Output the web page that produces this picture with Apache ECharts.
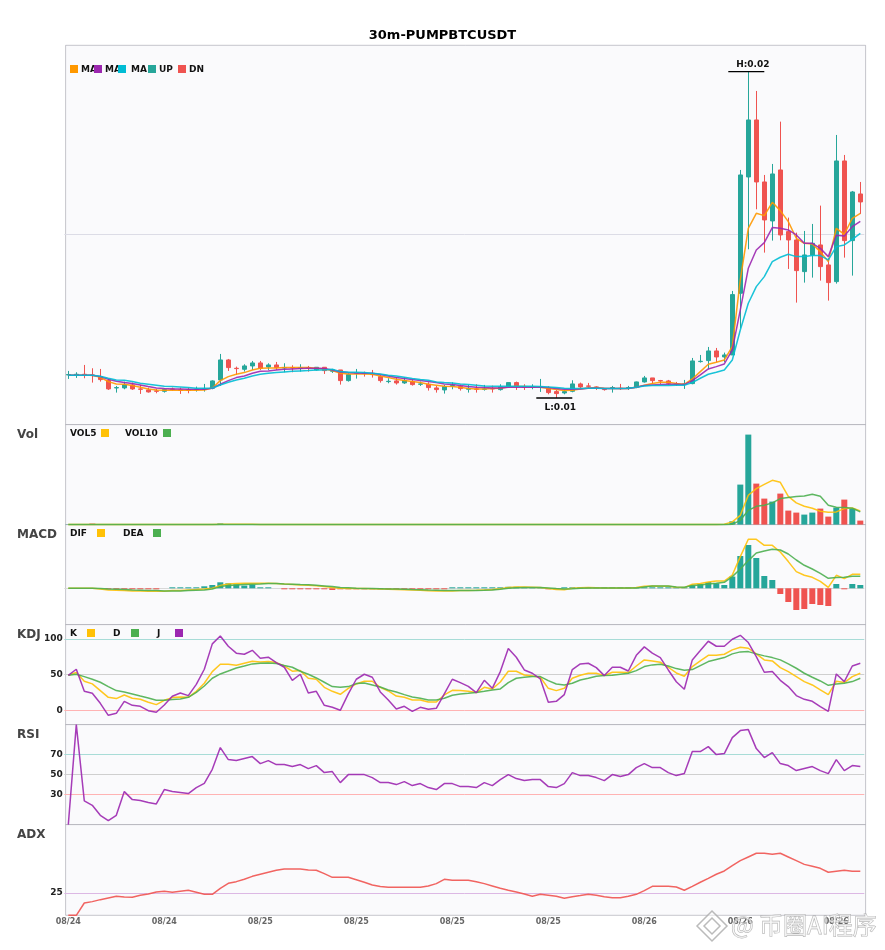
<!DOCTYPE html>
<html><head><meta charset="utf-8">
<style>html,body{margin:0;padding:0;background:#fff}#c{width:885px;height:950px}</style>
<script src="https://cdn.jsdelivr.net/npm/echarts@6/dist/echarts.min.js"></script>
</head><body><div id="c"></div>
<script>
const chartTitle='30m-PUMPBTCUSDT';
const dayRuns=[['08/24',24],['08/25',48],['08/26',28]];
// prices in units of 0.00001
const open=[1066,1066,1068,1066,1061,1049,1027,1027,1036,1024,
1021,1018,1017,1024,1021,1021,1022,1023,1026,1051,
1111,1086,1083,1093,1102,1090,1096,1087,1088,1086,
1088,1081,1089,1077,1081,1049,1071,1071,1068,1061,
1046,1048,1042,1046,1038,1038,1027,1021,1033,1031,
1023,1024,1023,1025,1022,1031,1043,1030,1029,1029,
1025,1016,1012,1017,1039,1033,1030,1023,1027,1026,
1027,1029,1045,1057,1049,1048,1039,1038,1040,1106,
1109,1138,1120,1126,1311,1660,1831,1645,1528,1681,
1496,1471,1376,1426,1456,1396,1346,1708,1469,1609];
const close=[1067,1068,1065,1064,1052,1024,1028,1036,1024,1023,
1015,1017,1022,1023,1020,1020,1023,1024,1048,1111,
1088,1085,1093,1102,1086,1096,1088,1088,1087,1087,
1087,1089,1079,1081,1049,1067,1072,1070,1067,1049,
1047,1042,1049,1037,1039,1028,1022,1031,1034,1025,
1026,1023,1024,1024,1030,1043,1033,1029,1030,1030,
1013,1010,1016,1039,1030,1032,1027,1022,1028,1025,
1028,1045,1057,1049,1048,1041,1038,1039,1108,1107,
1138,1120,1126,1307,1666,1831,1645,1531,1669,1486,
1471,1379,1426,1461,1391,1343,1708,1469,1615,1585];
const high=[1078,1074,1096,1086,1084,1054,1033,1046,1043,1036,
1028,1024,1025,1028,1028,1028,1031,1039,1050,1129,
1114,1091,1098,1108,1108,1101,1105,1101,1095,1098,
1093,1089,1089,1084,1081,1071,1084,1076,1081,1066,
1056,1059,1059,1053,1046,1044,1033,1036,1044,1037,
1036,1038,1036,1034,1038,1043,1046,1038,1038,1054,
1032,1021,1021,1050,1043,1042,1032,1026,1033,1039,
1033,1046,1063,1057,1051,1051,1045,1051,1117,1126,
1150,1147,1133,1318,1681,1976,1918,1666,1699,1826,
1538,1493,1498,1519,1574,1416,1786,1726,1618,1645];
const low=[1054,1057,1056,1043,1046,1021,1013,1023,1021,1009,
1013,1011,1013,1019,1009,1011,1016,1016,1023,1033,
1078,1066,1076,1081,1081,1081,1081,1074,1074,1076,
1076,1079,1069,1072,1037,1046,1055,1061,1058,1043,
1041,1037,1039,1034,1033,1019,1013,1010,1023,1019,
1013,1013,1019,1013,1019,1029,1021,1021,1023,1015,
1008,997,1008,1014,1023,1026,1021,1019,1013,1021,
1021,1026,1043,1039,1039,1036,1033,1024,1038,1103,
1083,1105,1105,1126,1206,1443,1563,1433,1469,1470,
1384,1283,1343,1358,1349,1289,1340,1418,1364,1549];
const ma5=[1065,1065,1065,1065,1059,1046,1039,1038,1034,1029,
1024,1021,1020,1021,1020,1020,1020,1021,1027,1049,
1061,1068,1073,1081,1086,1087,1087,1088,1088,1088,
1088,1086,1084,1079,1071,1069,1069,1069,1068,1063,
1058,1053,1049,1046,1043,1038,1035,1032,1031,1029,
1025,1024,1024,1025,1026,1030,1031,1031,1030,1029,
1025,1022,1019,1020,1024,1027,1028,1026,1025,1025,
1025,1029,1035,1040,1044,1044,1040,1038,1054,1076,
1098,1104,1111,1151,1351,1506,1551,1544,1584,1559,
1526,1476,1461,1459,1436,1406,1506,1488,1536,1551];
const ma10=[1065,1065,1065,1065,1061,1053,1047,1043,1040,1036,
1031,1027,1025,1024,1024,1023,1023,1023,1026,1038,
1049,1058,1063,1071,1077,1078,1081,1083,1084,1085,
1086,1086,1085,1081,1075,1073,1072,1071,1071,1067,
1063,1058,1055,1052,1049,1046,1043,1039,1037,1034,
1031,1029,1028,1027,1027,1029,1029,1029,1029,1029,
1028,1025,1023,1023,1024,1026,1027,1025,1025,1025,
1025,1029,1034,1036,1037,1038,1038,1037,1049,1066,
1084,1091,1099,1141,1261,1386,1441,1463,1508,1506,
1501,1486,1461,1461,1446,1421,1485,1483,1511,1527];
const ma20=[1065,1065,1065,1065,1062,1056,1051,1050,1046,1041,
1038,1035,1032,1031,1030,1028,1026,1026,1027,1036,
1044,1051,1056,1063,1068,1071,1073,1075,1077,1078,
1079,1081,1081,1083,1076,1074,1074,1073,1071,1069,
1065,1063,1059,1055,1052,1050,1045,1043,1042,1039,
1037,1035,1033,1032,1032,1032,1032,1032,1032,1031,
1030,1028,1026,1025,1025,1026,1026,1025,1025,1025,
1026,1029,1033,1034,1034,1034,1035,1035,1043,1056,
1068,1074,1081,1111,1201,1281,1331,1361,1406,1419,
1428,1421,1421,1424,1424,1411,1451,1456,1473,1491];
const vol=[.2,.2,.2,1,.2,.2,.2,.2,.2,.2,
.2,.2,.2,.2,.2,.2,.2,.2,.2,1.2,
.2,.2,.2,.2,.2,.2,.2,.2,.2,.2,
.2,.2,.2,.2,.2,.2,.2,.2,.2,.2,
.2,.2,.2,.2,.2,.2,.2,.2,.2,.2,
.2,.2,.2,.2,.2,.2,.2,.2,.2,.2,
.2,.2,.2,.2,.2,.2,.2,.2,.2,.2,
.2,.2,.2,.2,.2,.2,.2,.2,.3,.3,
.3,.3,.3,3.3,40,90,41,26,23,31,
14,12,10,12,16,8,17,25,16,4];
const vol5=[0,0,0,.2,.2,.2,.2,.2,0,0,
0,0,0,0,0,0,0,0,0,.3,
.3,.3,.3,.3,0,0,0,0,0,0,
0,0,0,0,0,0,0,0,0,0,
0,0,0,0,0,0,0,0,0,0,
0,0,0,0,0,0,0,0,0,0,
0,0,0,0,0,0,0,0,0,0,
0,0,0,0,0,0,0,0,0,0,
0,0,.3,2.7,9.3,29.3,36,40.3,44.3,42.3,
28.3,21.7,18.3,16.3,13.3,12.3,12.7,16,16.7,13.7];
const vol10=[0,0,0,.1,.1,.1,.1,.1,.1,.1,
.1,.1,.1,0,0,0,0,0,0,.1,
.1,.1,.1,.1,.1,.1,.1,.1,.1,0,
0,0,0,0,0,0,0,0,0,0,
0,0,0,0,0,0,0,0,0,0,
0,0,0,0,0,0,0,0,0,0,
0,0,0,0,0,0,0,0,0,0,
0,0,0,0,0,0,0,0,0,0,
0,0,0,.3,4.3,14.3,18.3,19.3,21.7,26,
27,28,28.7,30.3,28.3,19.3,17.3,17,16.3,12.7];
const dif=[0,0,0,0,-.7,-1.7,-2,-2.3,-2.7,-2.7,
-3,-3,-3,-2.3,-2.3,-1.7,-1.3,-.7,0,2.7,
4.3,4.7,5,5,5,5,4.7,4.2,3.8,3.3,
3,2.6,1.8,.8,0,-.2,-.3,-.3,-.4,-.8,
-1,-1.2,-1.4,-1.8,-2,-2.4,-2.6,-2.6,-2.6,-2.3,
-2.2,-2,-1.6,-1.2,-.4,.8,1.4,1.2,1,.7,
-.2,-1.2,-1.4,0,.6,.7,.5,.3,.2,.2,
.3,.7,2,2.3,2,2,1,.7,4,4.7,
6.3,7.3,7.3,13.3,31.7,49,49,43,43,36.3,
26.7,16.7,13,11,7,1,13,9.7,14,14];
const dea=[0,0,0,0,-.3,-.7,-1,-1.3,-1.7,-2,
-2.3,-2.3,-2.7,-2.7,-2.7,-2.3,-2,-1.7,-.7,1.7,
2.7,3.3,3.7,4,4.3,4.7,4.7,4.3,4,3.7,
3.5,3,2.4,1.8,.9,.5,0,-.1,-.2,-.4,
-.6,-.8,-1,-1.3,-1.5,-1.8,-2,-2.2,-2.3,-2.3,
-2.3,-2.2,-2,-1.7,-1,0,.5,.8,.9,.8,
.4,-.3,-.7,-.5,0,.3,.4,.4,.3,.3,
.3,.3,1.3,2.3,2.3,2.3,1.3,1,2.7,3.3,
4.3,5,6,11.7,19.3,27.7,35.3,37.3,39,38.3,
34.3,28.3,23,19.3,15,10,10.7,11,12,12];
const macdHist=[0,0,0,0,0,-.7,-.7,-.7,-.7,-.7,
-.7,-.7,0,.7,.7,.7,.7,2,3.3,6,
5,4,2.7,3.7,.7,.7,0,-.7,-.7,-.7,
-.7,-.7,-.7,-1.7,-1,-.4,-.4,-.4,-.4,-.8,
-.8,-.8,-.5,-.5,-.5,-.5,-.5,-.5,.6,.6,
.6,.6,.6,.6,.6,1.5,1.5,.8,.6,.6,
-.8,-.8,.3,.6,.5,.5,.5,.5,.8,.8,
.8,.3,.3,1,.3,.3,.3,.3,3,4.3,
6.3,5,3.3,11.7,32.3,43.3,30.3,12.3,8.3,-5.7,
-13.7,-21.7,-20.7,-15.7,-16.7,-17.7,4.3,-.7,4.3,3.3];
const kdjK=[49,53,40.7,37,27.6,18.2,16.4,21.5,16.8,15.4,
11.2,8,14,17.8,18.7,18.2,26.6,37.9,54.2,64.5,
64.5,63,65.9,68.7,67.8,68.2,66.8,62,54.7,55.6,
44.9,43.5,32.2,26.6,22.4,30.8,36.9,40.7,40.7,32.2,
27.1,20,18.2,14.5,14.5,11.7,11.7,21.5,28,27.6,
26.6,24.8,32.2,29.9,39.7,54.7,54.7,49.5,48.1,46.3,
30.8,27.6,30.8,44.9,49,51.9,51.9,48.6,53.3,53.3,
52.8,62,70.6,69.2,67.3,60.3,52.3,47.7,61.2,69.2,
77,77,78.5,84.6,88.3,86.9,79,70.6,69.2,59.8,
54.2,47.2,40.2,35.5,28.5,22,40.7,38.8,47.2,51.9];
const kdjD=[49,50.5,47.2,43.5,39.3,33.2,27.6,25.7,22.9,20,
17.3,14,14,15,15.9,18.2,25.2,34,44.9,50.9,
55,59.3,62,65,65.9,66.4,65.4,62.6,60.3,54.7,
50.5,45.3,39.3,33.2,32.2,33.2,37.4,38.3,35.5,32.7,
28.5,25.7,22,18.7,16.8,14.5,14.5,16.8,21,22.9,
23.8,24.8,26.6,28.5,29.9,38.8,44.9,46.3,47.2,47.2,
41.6,36.9,35.5,37.9,42.5,44.9,47.7,48.6,49,50.5,
51.9,55.6,61.2,63.6,64.5,62,58.4,56,57,62.6,
68.2,71,73.8,79,81.8,82.2,79,76.2,73.8,70.6,
65,58.9,51.9,46.3,41.1,35,36.9,37.9,40.2,44.9];
const kdjJ=[49,57.5,26.6,23.8,9.8,-7,-4.2,12.6,7,5.6,
-.5,-2.8,7.5,19.6,24.3,20.6,36.4,57.5,93,104,
89.7,80,78.5,84,73,74.3,66.8,60.3,42,50.5,
24.3,26.6,7,4.2,0,23,43.5,50.5,46.3,25.7,
14.5,1.9,5.6,-1.4,4.2,1.4,2.8,23,43.5,38.8,
33.6,24.8,42,30.8,54.2,86.4,74.3,56.5,51.9,44,
11.2,12.6,22,57,65,65.9,59.8,48.6,60.3,60.3,
55,77,88.8,80,73.8,56.5,40,29.4,70.6,83.6,
96.7,89.7,89.7,99.5,105,94.9,75.2,53.3,54.2,42,
33.2,20.6,15.4,12.6,5.1,-1.4,50.9,40.2,62,65.9];
const rsi=[0,100,23.7,19.3,9.3,4,9.3,33,25,24,
22,20.7,35,33,32,31,37,41.3,55.3,77,
65,64,66,68,61,64,60,60,58,60,
56,59,52,53,42,50,50,50,47,42,
42,40,43,39,41,37,35,41,41,38,
38,37,42,39,45,50,46,44,45,45,
38,37,41,52,49,49,47,44,50,48,
50,57,61,57,57,52,49,51,73,73,
78,70,71,87,94,95,76,67,72,61,
59,54,56,58,54,51,65,54,59,58];
const adx=[0,0,13.7,15.2,17.4,19.3,21.1,20.4,20,22.2,
23.7,25.9,26.7,25.6,26.7,27.8,25.6,23.3,23.3,30,
35.6,37.4,40,43.3,45.6,47.8,50,51.5,51.5,51.5,
50.4,50,46.3,42.2,42.2,42.2,39.6,36.7,33.7,31.9,
31.1,31.1,31.1,31.1,31.1,32.6,35.2,40,38.9,38.9,
38.9,37.4,35.2,32.6,30,27.8,25.9,23.7,21.1,23.3,
22.2,21.1,18.9,20.7,21.9,23.3,22.2,20.7,19.6,19.6,
21.1,23.3,27.4,32.2,32.2,32.2,31.5,27.8,32.2,36.7,
41.1,45.6,49.3,55.2,60.7,64.8,68.9,68.9,67.8,68.9,
64.8,60.7,56.6,54.4,52.2,47.8,48.9,50,48.9,48.9];
const kdjTicks=[0,50,100], rsiTicks=[30,50,70], adxTicks=[25];

const UP='#26a69a',DN='#ef5350',F='DejaVu Sans';
const categories=dayRuns.flatMap(([d,n])=>Array(n).fill(d));
// panel rows: top, height
const rows=[[45.3,379.3],[424.6,100],[524.6,100],[624.6,100],[724.6,100],[824.6,90.7]];
const DL=64.3, BL=65.6, W=800;
const grid=[],xAxis=[],yAxis=[];
rows.forEach(([t,h])=>{grid.push({left:BL,top:t,width:W,height:h,show:true,backgroundColor:'#fafafc',borderColor:'rgba(130,130,145,.45)',borderWidth:1,z:0});
 xAxis.push({gridIndex:grid.length-1,type:'category',data:categories,show:false});
 yAxis.push({gridIndex:grid.length-1,type:'value',show:false,min:0,max:1});});
const ranges=[[917,2055],[0,100],[-36.3,63.7],[-20,120],[0,100],[0,100.8]];
const yTicks=[null,null,null,kdjTicks,rsiTicks,adxTicks];
rows.forEach(([t,h],r)=>{grid.push({left:DL,top:t,width:W,height:h,show:false,z:2});
 const gi=grid.length-1;
 xAxis.push({gridIndex:gi,type:'category',data:categories,boundaryGap:true,
   axisLine:{show:false},axisTick:{show:false},splitLine:{show:false},
   axisLabel:r===5?{show:true,interval:11,fontFamily:F,fontWeight:'bold',fontSize:8,color:'#666',margin:3,hideOverlap:false,showMinLabel:true}:{show:false}});
 const y={gridIndex:gi,type:'value',min:ranges[r][0],max:ranges[r][1],axisLine:{show:false},axisTick:{show:false},splitLine:{show:false},
   axisLabel:{show:false}};
 if(yTicks[r]) y.axisLabel={show:true,customValues:yTicks[r],fontFamily:F,fontWeight:'bold',fontSize:9,color:'#222',margin:1.5,showMinLabel:true,showMaxLabel:true};
 yAxis.push(y);
});
const line=(name,data,color,g,extra)=>Object.assign({name,type:'line',data,xAxisIndex:g,yAxisIndex:g,symbol:'none',silent:true,animation:false,clip:false,z:3,
  lineStyle:{color,width:1.5,opacity:.9},itemStyle:{color}},extra||{});
const levels=(arr)=>({silent:true,symbol:'none',animation:false,label:{show:false},z:1,
  data:arr.map(([v,c])=>({yAxis:v,lineStyle:{color:c,width:1,type:'solid'}}))});
const iHigh=high.indexOf(Math.max(...high)), iLow=low.indexOf(Math.min(...low));
const mp=(i,val,txt,pos,off)=>({name:txt,coord:[i,val],value:txt,symbol:'rect',symbolSize:[36,1.4],symbolOffset:[-2,0],itemStyle:{color:'#000'},
  label:{show:true,formatter:txt,position:pos,distance:pos==='top'?2:3,offset:off,color:'#111',fontFamily:F,fontWeight:'bold',fontSize:9}});
const G0=6;
const series=[
 {name:'K',type:'candlestick',xAxisIndex:G0,yAxisIndex:G0,barWidth:5,animation:false,clip:false,z:2,
  data:open.map((o,i)=>[o,close[i],low[i],high[i]]),
  itemStyle:{color:UP,color0:DN,borderColor:UP,borderColor0:DN,borderWidth:1},
  markLine:levels([[1487,'#dcdce6']]),
  markPoint:{animation:false,silent:true,data:[
    mp(iHigh,high[iHigh],'H:'+(high[iHigh]/1e5).toFixed(2),'top',[6.5,0.5]),
    mp(iLow,low[iLow],'L:'+(low[iLow]/1e5).toFixed(2),'bottom',[6,2])]}},
 line('MA5',ma5,'#ff9800',G0),
 line('MA10',ma10,'#9c27b0',G0),
 line('MA20',ma20,'#00bcd4',G0),
 {name:'Vol',type:'bar',xAxisIndex:G0+1,yAxisIndex:G0+1,barWidth:6,animation:false,z:2,
  data:vol.map((v,i)=>({value:v,itemStyle:{color:close[i]>=open[i]?UP:DN}}))},
 line('VOL5',vol5,'#ffc107',G0+1),
 line('VOL10',vol10,'#4caf50',G0+1),
 {name:'MACD',type:'bar',xAxisIndex:G0+2,yAxisIndex:G0+2,barWidth:6,barMinHeight:1,animation:false,z:2,
  data:macdHist.map(v=>v===0?null:({value:v,itemStyle:{color:v>=0?UP:DN}})),
  markLine:levels([[0,'#d8d8d8']])},
 line('DIF',dif,'#ffc107',G0+2),
 line('DEA',dea,'#4caf50',G0+2),
 line('K',kdjK,'#ffc107',G0+3,{markLine:levels([[100,'#a8dcd7'],[50,'#cfcfcf'],[0,'#ffb3b3']])}),
 line('D',kdjD,'#4caf50',G0+3),
 line('J',kdjJ,'#9c27b0',G0+3),
 line('RSI',rsi,'#9c27b0',G0+4,{markLine:levels([[70,'#a8dcd7'],[50,'#cfcfcf'],[30,'#ffb3b3']])}),
 line('ADX',adx,'#ef5350',G0+5,{markLine:levels([[25,'#dcb8e4']])})
];
const paneTitle=(text,top)=>({text,left:12,top,textStyle:{fontFamily:F,fontWeight:'bold',fontSize:12,color:'#444'}});
const title=[{text:chartTitle,left:'center',top:24,textStyle:{fontFamily:F,fontWeight:'bold',fontSize:13,color:'#000'}},
 paneTitle('Vol',424),paneTitle('MACD',524),paneTitle('KDJ',624),paneTitle('RSI',724),paneTitle('ADX',824)];
const gfx=[];
const sq=(x,y,c)=>gfx.push({type:'rect',silent:true,z:50,shape:{x,y,width:8,height:8},style:{fill:c}});
const tx=(x,y,t)=>gfx.push({type:'text',silent:true,z:49,x,y,style:{text:t,fill:'#111',font:'bold 9px "DejaVu Sans"',textVerticalAlign:'middle',verticalAlign:'middle'}});
[[70,81,'#ff9800','MA'],[94,105,'#9c27b0','MA'],[118,131,'#00bcd4','MA'],[148,159,UP,'UP'],[178,189,DN,'DN']].forEach(([a,b,c,t])=>{sq(a,65,c);tx(b,70,t)});
[[125,'VOL10',163,'#4caf50'],[70,'VOL5',101,'#ffc107']].forEach(([a,t,b,c])=>{tx(a,434,t);sq(b,429,c)});
[[70,'DIF',97,'#ffc107'],[123,'DEA',153,'#4caf50']].forEach(([a,t,b,c])=>{tx(a,534,t);sq(b,529,c)});
[[70,'K',87,'#ffc107'],[113,'D',131,'#4caf50'],[157,'J',175,'#9c27b0']].forEach(([a,t,b,c])=>{tx(a,634,t);sq(b,629,c)});
// watermark
gfx.push({type:'text',silent:true,z:60,x:731,y:925,style:{text:'@ 币圈AI程序',fill:'rgba(255,255,255,.55)',stroke:'rgba(150,150,150,.75)',lineWidth:.8,font:'24px "Noto Sans CJK SC"',verticalAlign:'middle',textVerticalAlign:'middle'}});
gfx.push({type:'polygon',silent:true,z:60,shape:{points:[[712,911],[727,926],[712,941],[697,926]]},style:{fill:'rgba(255,255,255,.5)',stroke:'rgba(170,170,170,.8)',lineWidth:1.5}});
gfx.push({type:'polygon',silent:true,z:60,shape:{points:[[712,918],[720,926],[712,934],[704,926]]},style:{fill:'rgba(255,255,255,.5)',stroke:'rgba(170,170,170,.8)',lineWidth:1.5}});
const chart=echarts.init(document.getElementById('c'),null,{renderer:'canvas',width:885,height:950});
chart.setOption({animation:false,backgroundColor:'#fff',title,grid,xAxis,yAxis,series,graphic:gfx});
</script></body></html>
